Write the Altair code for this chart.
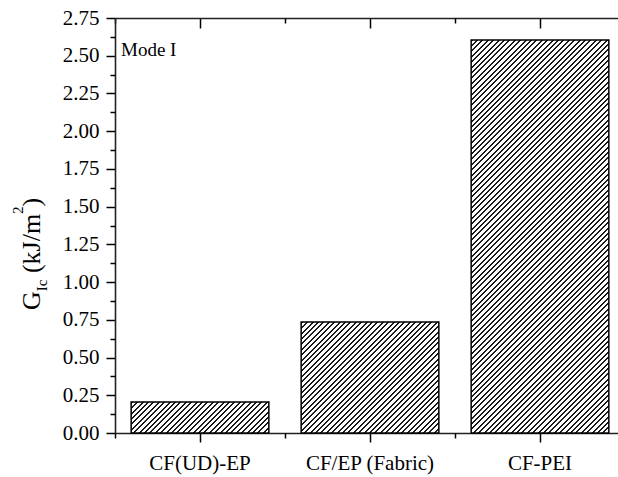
import altair as alt
import pandas as pd

# ---------------- data ----------------
CATEGORIES = ["CF(UD)-EP", "CF/EP (Fabric)", "CF-PEI"]
VALUES = [0.205, 0.735, 2.605]
Y_TICKS = [0.00, 0.25, 0.50, 0.75, 1.00, 1.25, 1.50, 1.75, 2.00, 2.25, 2.50, 2.75]
Y_MINOR = [0.125, 0.375, 0.625, 0.875, 1.125, 1.375, 1.625, 1.875, 2.125, 2.375, 2.625]
ANNOTATION = ["Mode I"]
TITLE_PARTS = ["G", "Ic", "(kJ/m", "2", ")"]

# ---------------- layout / style ----------------
FONT = "Liberation Serif"
PLOT_W = 503          # visible plot width (window is 618 wide)
X_RANGE = 510         # band scale runs a little past the window edge
PLOT_H = 415
Y_MAX = 2.75
BAND = 0.81
INK = "#1a1a1a"
PAPER = "#ffffff"

df = pd.DataFrame({"cat": CATEGORIES, "val": VALUES})


def hatch(w, h, period=5.4, ink=0.38):
    """Diagonal '/' hatching as a repeating linear gradient in bbox units."""
    L = w + h
    s = L / (w * w + h * h)
    stops = []
    k = 0
    while k * period < L:
        a = round(k * period / L, 5)
        b = round(min((k + ink) * period / L, 1.0), 5)
        c = round(min((k + 1) * period / L, 1.0), 5)
        stops += [
            alt.GradientStop(offset=a, color=INK),
            alt.GradientStop(offset=b, color=INK),
            alt.GradientStop(offset=b, color=PAPER),
            alt.GradientStop(offset=c, color=PAPER),
        ]
        k += 1
    return alt.LinearGradient(gradient="linear", stops=stops,
                              x1=0, y1=0, x2=s * w, y2=s * h)


xscale = alt.Scale(domain=CATEGORIES, range=[0, X_RANGE], paddingInner=0, paddingOuter=0)
yscale = alt.Scale(domain=[0, Y_MAX], nice=False, zero=True)

common_tick = dict(tickColor="black", tickWidth=1.5, grid=False, title=None)

ax_bottom_major = alt.Axis(orient="bottom", labelFont=FONT, labelFontSize=21, labelColor="black",
                           labelAngle=0, labelPadding=10, labelOverlap=False, tickSize=9,
                           bandPosition=0.5, domainColor="#222222", domainWidth=1.6, **common_tick)
ax_bottom_minor = alt.Axis(orient="bottom", labels=False, domain=False, tickSize=5,
                           bandPosition=0, **common_tick)
ax_top_major = alt.Axis(orient="bottom", offset=-PLOT_H, labels=False, tickSize=10,
                        bandPosition=0.5, domainColor="#222222", domainWidth=1.6, **common_tick)
ax_top_minor = alt.Axis(orient="bottom", offset=-PLOT_H, labels=False, domain=False, tickSize=5,
                        bandPosition=0, **common_tick)
ax_left_major = alt.Axis(orient="left", values=Y_TICKS, format=".2f", labelFont=FONT,
                         labelFontSize=21, labelColor="black", labelPadding=7, tickSize=9,
                         labelOverlap=False, domainColor="#222222", domainWidth=1.6, **common_tick)
ax_left_minor = alt.Axis(orient="left", values=Y_MINOR, labels=False, domain=False, tickSize=5,
                         **common_tick)

x_axes = [ax_bottom_major, ax_bottom_minor, ax_top_major]
y_axes = [ax_left_major, ax_left_minor, None]

bar_w = X_RANGE / len(CATEGORIES) * BAND
layers = []
for i, (cat, val) in enumerate(zip(CATEGORIES, VALUES)):
    h = val / Y_MAX * PLOT_H
    layer = (
        alt.Chart(df)
        .transform_filter(alt.datum.cat == cat)
        .mark_bar(width=alt.RelativeBandSize(BAND), fill=hatch(bar_w, h),
                  stroke="black", strokeWidth=1.5)
        .encode(
            x=alt.X("cat:N", scale=xscale, axis=x_axes[i]),
            y=alt.Y("val:Q", scale=yscale, axis=y_axes[i]),
        )
    )
    layers.append(layer)

# invisible layer carrying the top minor ticks
helper = alt.Chart(df).mark_bar(opacity=0).encode(
    x=alt.X("cat:N", scale=xscale, axis=ax_top_minor),
    y=alt.Y("val:Q", scale=yscale, axis=None),
)
layers.append(helper)

# "Mode I" annotation
ann = alt.Chart(pd.DataFrame({"t": ANNOTATION})).mark_text(
    font=FONT, fontSize=19, align="left", baseline="alphabetic", color="black"
).encode(x=alt.value(6), y=alt.value(38), text="t:N")
layers.append(ann)

# y-axis title with subscript / superscript, built from pieces
title_style = [  # (x, y, fontSize) per piece, plot-relative pixels
    (-75, 292.0, 26),
    (-68, 273.2, 15),
    (-75, 255.1, 26),
    (-92, 195.9, 15),
    (-75, 188.4, 26),
]
for part, (px, py, fs) in zip(TITLE_PARTS, title_style):
    t = alt.Chart(pd.DataFrame({"t": [part]})).mark_text(
        font=FONT, fontSize=fs, angle=270, align="left", baseline="alphabetic", color="black"
    ).encode(x=alt.value(px), y=alt.value(py), text="t:N")
    layers.append(t)

chart = (
    alt.layer(*layers)
    .resolve_scale(x="shared", y="shared")
    .resolve_axis(x="independent", y="independent")
    .properties(
        width=PLOT_W,
        height=PLOT_H,
        autosize=alt.AutoSizeParams(type="none"),
        padding={"left": 115, "top": 18, "right": 0, "bottom": 44},
        background="white",
    )
    .configure_view(stroke=None)
)

chart.save("out.html", embed_options={"renderer": "svg", "actions": False})
